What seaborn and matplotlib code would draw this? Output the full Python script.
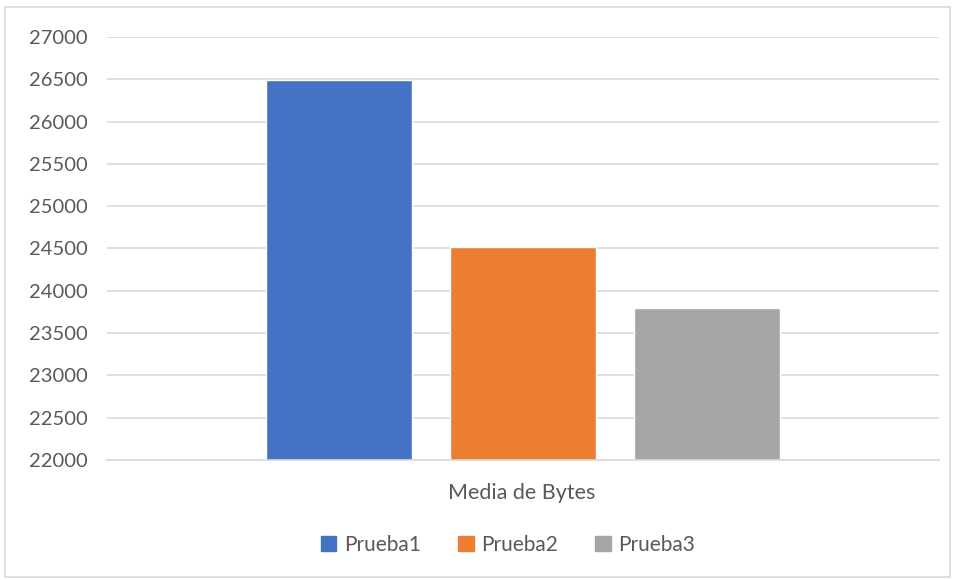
import matplotlib
matplotlib.use("Agg")
import matplotlib.pyplot as plt
import seaborn as sns
import pandas as pd
from matplotlib.patches import Rectangle

category = ["Media de Bytes"]
series = ["Prueba1", "Prueba2", "Prueba3"]
values = [26495, 24515, 23800]
colors = ["#4472C4", "#ED7D31", "#A5A5A5"]
yticks = [22000, 22500, 23000, 23500, 24000, 24500, 25000, 25500, 26000, 26500, 27000]

sns.set_theme(style="white")
plt.rcParams["font.family"] = ["Lato", "DejaVu Sans"]

df = pd.DataFrame({"cat": category * len(series), "serie": series, "valor": values})

fig = plt.figure(figsize=(9.56, 5.8), dpi=100)
W, H = 956, 580
ax = fig.add_axes([107 / W, 1 - 460 / H, (939 - 107) / W, (460 - 37) / H])

sns.barplot(data=df, x="cat", y="valor", hue="serie", palette=colors,
            width=0.8, gap=0.2065, ax=ax, legend=False, saturation=1)

ax.set_ylim(22000, 27000)
ax.set_xlim(-0.603, 0.603)
ax.set_yticks(yticks)
ax.set_yticklabels([str(v) for v in yticks], fontsize=14.5, color="#595959")
ax.tick_params(axis="y", length=0, pad=14)
ax.set_xticks([])
ax.set_xlabel("")
ax.set_ylabel("")
ax.grid(axis="y", color="#D9D9D9", linewidth=1.2)
ax.set_axisbelow(True)
for s in ["top", "right", "left"]:
    ax.spines[s].set_visible(False)
ax.spines["bottom"].set_color("#D9D9D9")
ax.spines["bottom"].set_linewidth(1.2)

fig.text(522 / W, 1 - 493 / H, "Media de Bytes", ha="center", va="center",
         fontsize=15.5, color="#595959")

handles = [Rectangle((0, 0), 1, 1, color=c) for c in colors]
fig.legend(handles, series, loc="center", bbox_to_anchor=(508 / W, 1 - 545 / H),
           ncol=3, frameon=False, fontsize=15, handlelength=0.75, handleheight=0.75,
           handletextpad=0.35, columnspacing=1.8, labelcolor="#595959")

fig.patches.append(Rectangle((5 / W, 3 / H), 945 / W, 570 / H, transform=fig.transFigure,
                             fill=False, edgecolor="#D9D9D9", linewidth=1.2))

fig.savefig("out.png", dpi=100)
